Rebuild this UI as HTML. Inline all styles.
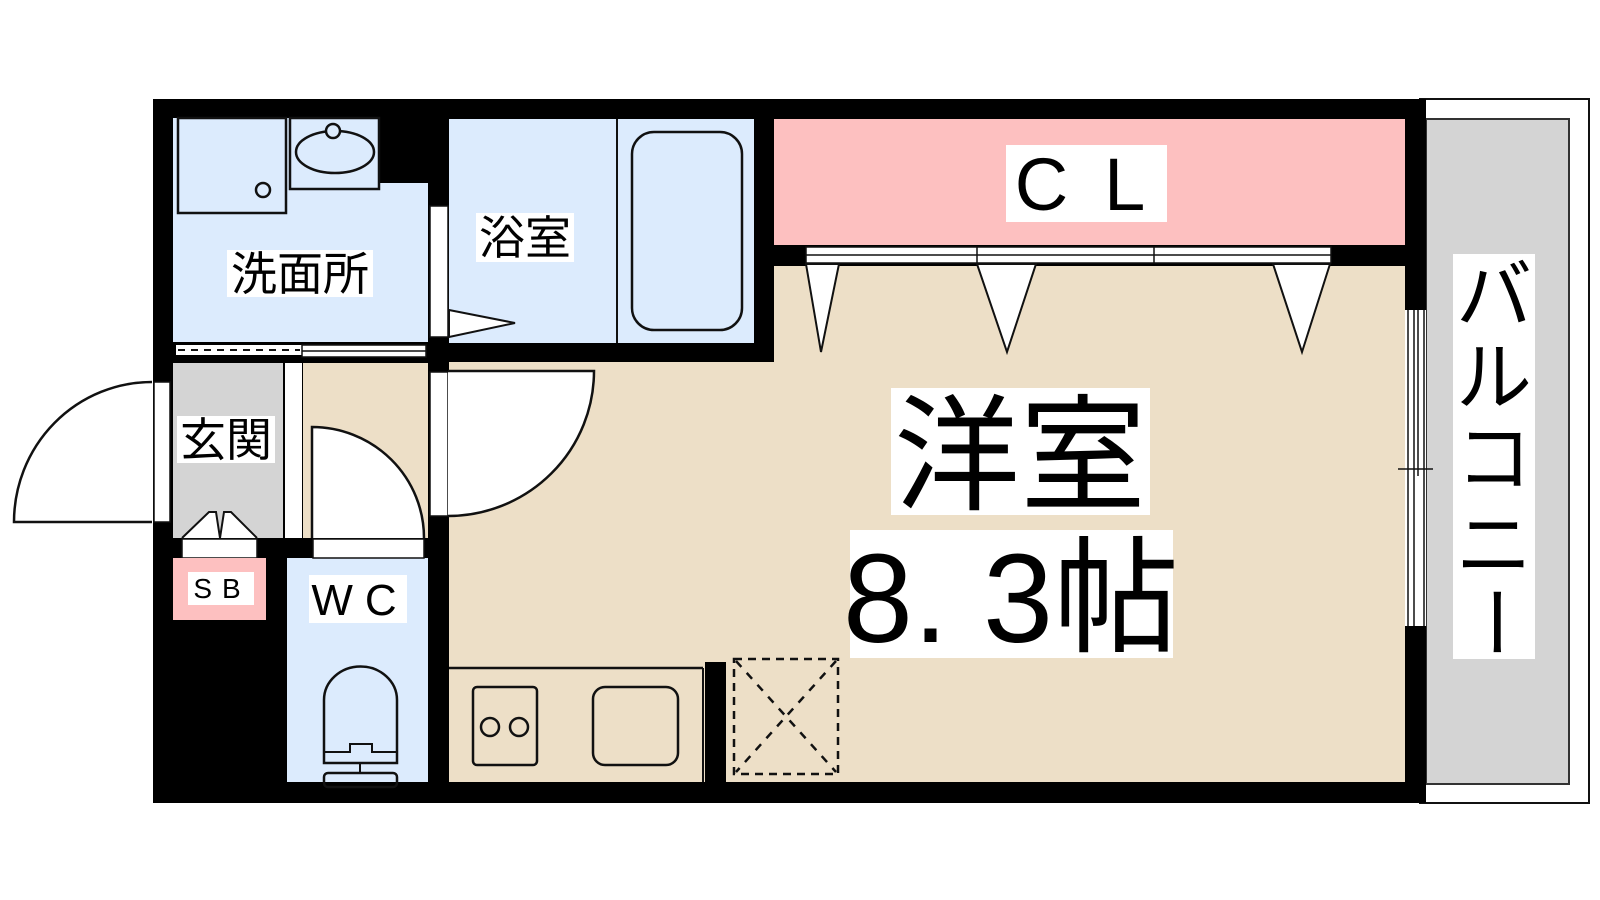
<!DOCTYPE html>
<html><head><meta charset="utf-8"><style>html,body{margin:0;padding:0;background:#fff;}svg{display:block}text{font-family:"Liberation Sans","Noto Sans CJK JP",sans-serif;fill:#000}</style></head>
<body>
<svg width="1600" height="900" viewBox="0 0 1600 900" xmlns="http://www.w3.org/2000/svg">
<rect width="1600" height="900" fill="#fff"/>
<rect x="1420" y="99" width="169" height="704" fill="#fff" stroke="#111" stroke-width="2"/>
<rect x="1426" y="119" width="143" height="665" fill="#d4d4d4" stroke="#333" stroke-width="2"/>
<rect x="153" y="99" width="1273" height="704" fill="#000"/>
<polygon points="173,118 379,118 379,183 428,183 428,342 173,342" fill="#dcebfd"/>
<rect x="178" y="118" width="108" height="95" fill="none" stroke="#111" stroke-width="2.5"/>
<circle cx="263" cy="190" r="7" fill="none" stroke="#111" stroke-width="2.5"/>
<rect x="290" y="118" width="89" height="71" fill="none" stroke="#111" stroke-width="2.5"/>
<ellipse cx="335" cy="152" rx="39" ry="21" fill="none" stroke="#111" stroke-width="2.5"/>
<circle cx="333" cy="131" r="7" fill="#dcebfd" stroke="#111" stroke-width="2.5"/>
<rect x="176" y="345" width="126" height="10" fill="#fff"/>
<line x1="178" y1="350" x2="300" y2="350" stroke="#111" stroke-width="2" stroke-dasharray="7,6"/>
<rect x="302" y="345" width="124" height="12" fill="#fff" stroke="#111" stroke-width="1.5"/>
<line x1="302" y1="351" x2="426" y2="351" stroke="#111" stroke-width="1.5"/>
<rect x="173" y="363" width="110" height="175" fill="#d4d4d4"/>
<rect x="285" y="363" width="17" height="175" fill="#fff"/>
<rect x="303" y="363" width="125" height="175" fill="#eddfc7"/>
<rect x="154" y="382" width="16" height="140" fill="#fff" stroke="#111" stroke-width="1.5"/>
<path d="M152,382 A138,140 0 0 0 14,522 L152,522" fill="#fff" stroke="#111" stroke-width="2.5"/>
<path d="M182,538 L209,512 L216,512 L220,538 M220,538 L224,512 L231,512 L257,538" fill="#fff" stroke="#111" stroke-width="2"/>
<rect x="182" y="539" width="75" height="19" fill="#fff" stroke="#111" stroke-width="1.5"/>
<rect x="173" y="558" width="93" height="62" fill="#fdc0c0"/>
<rect x="188" y="572" width="66" height="33" fill="#fff"/>
<text x="222" y="598" font-size="28" text-anchor="middle" letter-spacing="10">SB</text>
<rect x="287" y="558" width="141" height="224" fill="#dcebfd"/>
<rect x="313" y="539" width="111" height="19" fill="#fff" stroke="#111" stroke-width="1.5"/>
<path d="M312,538 L312,427 A112,111 0 0 1 424,538" fill="#fff" stroke="#111" stroke-width="2.5"/>
<rect x="309" y="575" width="98" height="48" fill="#fff"/>
<text x="360" y="615" font-size="44" text-anchor="middle" letter-spacing="12">WC</text>
<path d="M324,763 L324,700 A36,33 0 0 1 397,700 L397,763 Z" fill="none" stroke="#111" stroke-width="2.5"/>
<path d="M324,752 L350,752 L350,744 L372,744 L372,752 L397,752" fill="none" stroke="#111" stroke-width="2"/>
<line x1="360" y1="764" x2="360" y2="773" stroke="#111" stroke-width="2"/>
<rect x="324" y="773" width="73" height="14" rx="4" fill="none" stroke="#111" stroke-width="2.5"/>
<rect x="449" y="119" width="305" height="224" fill="#dcebfd"/>
<line x1="617" y1="119" x2="617" y2="343" stroke="#111" stroke-width="2"/>
<rect x="632" y="132" width="110" height="198" rx="22" fill="none" stroke="#111" stroke-width="2.5"/>
<rect x="430" y="206" width="18" height="131" fill="#fff" stroke="#111" stroke-width="1.5"/>
<polygon points="449,310 515,323 449,337" fill="#fff" stroke="#111" stroke-width="2"/>
<rect x="476" y="213" width="98" height="49" fill="#fff"/>
<text x="525" y="254" font-size="46" text-anchor="middle">浴室</text>
<rect x="774" y="119" width="631" height="126" fill="#fdc0c0"/>
<rect x="1006" y="145" width="161" height="77" fill="#fff"/>
<text x="1098" y="210" font-size="74" text-anchor="middle" letter-spacing="36">CL</text>
<polygon points="449,362 774,362 774,266 1405,266 1405,782 449,782" fill="#eddfc7"/>
<rect x="806" y="247" width="525" height="16" fill="#fff" stroke="#111" stroke-width="1.5"/>
<line x1="806" y1="255" x2="1331" y2="255" stroke="#111" stroke-width="1.5"/>
<line x1="977" y1="247" x2="977" y2="263" stroke="#111" stroke-width="1.5"/>
<line x1="1154" y1="247" x2="1154" y2="263" stroke="#111" stroke-width="1.5"/>
<polygon points="806,264 839,264 821,352" fill="#fff" stroke="#111" stroke-width="2"/>
<polygon points="977,264 1036,264 1007,352" fill="#fff" stroke="#111" stroke-width="2"/>
<polygon points="1273,264 1330,264 1302,352" fill="#fff" stroke="#111" stroke-width="2"/>
<rect x="430" y="372" width="18" height="144" fill="#fff" stroke="#111" stroke-width="1.5"/>
<path d="M448,371 L594,371 A146,145 0 0 1 448,516" fill="#fff" stroke="#111" stroke-width="2.5"/>
<rect x="1405" y="310" width="21" height="316" fill="#fff"/>
<line x1="1408" y1="310" x2="1408" y2="626" stroke="#111" stroke-width="1.5"/>
<line x1="1414" y1="310" x2="1414" y2="626" stroke="#111" stroke-width="1.5"/>
<line x1="1418" y1="310" x2="1418" y2="476" stroke="#111" stroke-width="1.5"/>
<line x1="1424" y1="310" x2="1424" y2="626" stroke="#111" stroke-width="1.5"/>
<line x1="1398" y1="469" x2="1433" y2="469" stroke="#111" stroke-width="1.5"/>
<line x1="449" y1="668" x2="703" y2="668" stroke="#111" stroke-width="2.5"/>
<line x1="703" y1="668" x2="703" y2="782" stroke="#111" stroke-width="2"/>
<rect x="705" y="662" width="21" height="120" fill="#000"/>
<rect x="473" y="687" width="64" height="78" rx="4" fill="none" stroke="#111" stroke-width="2.5"/>
<circle cx="490" cy="727" r="9" fill="none" stroke="#111" stroke-width="2.5"/>
<circle cx="519" cy="727" r="9" fill="none" stroke="#111" stroke-width="2.5"/>
<rect x="593" y="687" width="85" height="78" rx="12" fill="none" stroke="#111" stroke-width="2.5"/>
<rect x="734" y="659" width="104" height="115" fill="none" stroke="#111" stroke-width="2.5" stroke-dasharray="8,6"/>
<path d="M736,661 L836,772 M836,661 L736,772" stroke="#111" stroke-width="2.5" stroke-dasharray="8,8"/>
<rect x="227" y="250" width="146" height="47" fill="#fff"/>
<text x="300" y="290" font-size="46" text-anchor="middle">洗面所</text>
<rect x="177" y="416" width="98" height="47" fill="#fff"/>
<text x="226" y="456" font-size="46" text-anchor="middle">玄関</text>
<rect x="891" y="388" width="259" height="127" fill="#fff"/>
<text x="1020" y="500" font-size="126" text-anchor="middle">洋室</text>
<rect x="850" y="530" width="323" height="128" fill="#fff"/>
<text x="1011" y="642" font-size="126" text-anchor="middle">8. 3帖</text>
<rect x="1453" y="254" width="82" height="405" fill="#fff"/>
<g font-size="76" text-anchor="middle">
<text x="1494" y="322">バ</text>
<text x="1494" y="404">ル</text>
<text x="1494" y="485">コ</text>
<text x="1494" y="572">ニ</text>
<text x="1494" y="648" transform="rotate(90 1494 622)">ー</text>
</g>
</svg>
</body></html>
